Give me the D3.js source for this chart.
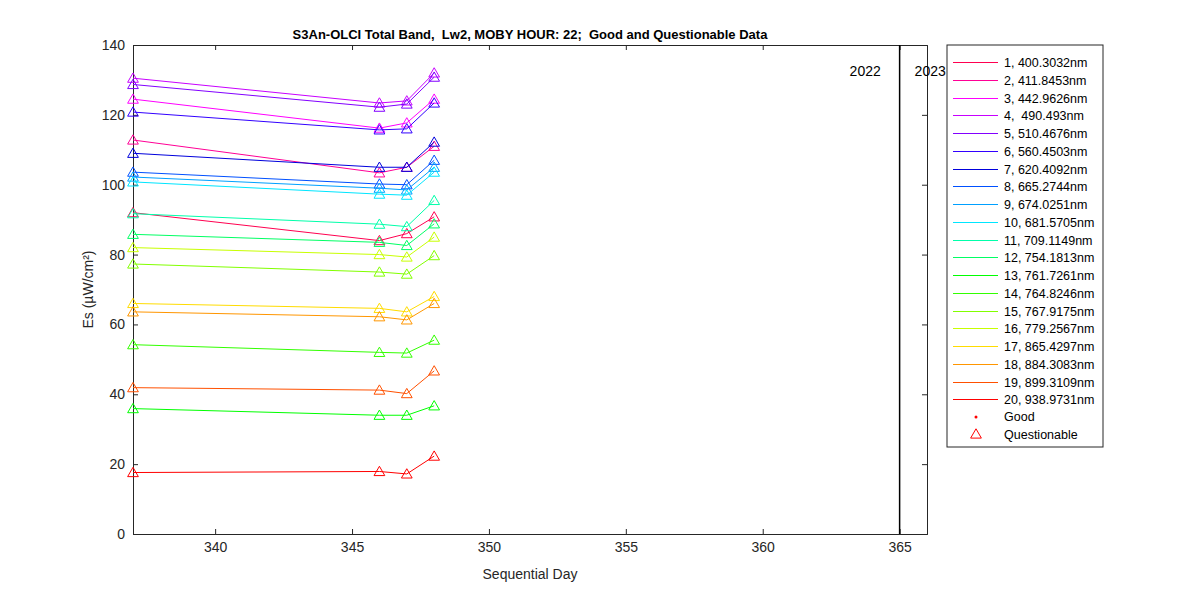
<!DOCTYPE html>
<html><head><meta charset="utf-8"><script src="https://cdn.jsdelivr.net/npm/d3@7"></script>
<style>body{margin:0;background:#fff}text{font-family:Arial,"Liberation Sans",sans-serif;white-space:pre}</style></head>
<body><svg id="c" width="1200" height="600"></svg>
<script>
const days=[337,346,347,348];
const bandNames=["1, 400.3032nm","2, 411.8453nm","3, 442.9626nm","4,  490.493nm","5, 510.4676nm","6, 560.4503nm","7, 620.4092nm","8, 665.2744nm","9, 674.0251nm","10, 681.5705nm","11, 709.1149nm","12, 754.1813nm","13, 761.7261nm","14, 764.8246nm","15, 767.9175nm","16, 779.2567nm","17, 865.4297nm","18, 884.3083nm","19, 899.3109nm","20, 938.9731nm"];
const bandColors=["#ff0050","#ff0096","#ff00ff","#c800ff","#8200ff","#3200ff","#0000dc","#0050ff","#00a0ff","#00e6ff","#00ffaa","#00ff64","#00ff00","#32ff00","#82ff00","#c8ff00","#ffdc00","#ff9600","#ff5000","#ff0000"];
const bandValues=[
[92.0,84.0,86.0,90.8],
[112.8,103.4,105.0,111.0],
[124.5,116.2,117.7,124.5],
[130.5,123.4,124.0,132.0],
[128.7,122.2,123.1,130.8],
[120.8,115.7,116.0,123.4],
[109.0,105.0,105.0,112.2],
[103.6,100.2,100.0,107.0],
[102.2,99.0,98.5,105.0],
[100.8,97.3,97.0,103.6],
[91.7,88.7,88.0,95.5],
[85.8,83.5,82.6,88.8],
[35.9,34.0,34.0,36.7],
[54.2,52.0,51.8,55.5],
[77.3,75.0,74.4,79.7],
[82.0,80.0,79.3,85.0],
[66.0,64.6,63.6,68.0],
[63.6,62.2,61.3,66.0],
[41.9,41.2,40.2,46.7],
[17.6,17.9,17.2,22.3]];
const xTicks=[340,345,350,355,360,365];
const yTicks=[0,20,40,60,80,100,120,140];
const yearLine=365;

const svg=d3.select("#c");
const L=133,R=927,T=45,B=534;
const x=d3.scaleLinear().domain([337,366]).range([L,R]);
const y=d3.scaleLinear().domain([0,140]).range([B,T]);
const g=svg.append("g");
g.append("rect").attr("x",L).attr("y",T).attr("width",R-L).attr("height",B-T).attr("fill","#fff");
const xa=g.append("g").attr("transform",`translate(0,${B})`).call(d3.axisBottom(x).tickValues(xTicks).tickSize(-5).tickPadding(8));
const xt=g.append("g").attr("transform",`translate(0,${T})`).call(d3.axisTop(x).tickValues(xTicks).tickSize(-5).tickFormat(""));
const ya=g.append("g").attr("transform",`translate(${L},0)`).call(d3.axisLeft(y).tickValues(yTicks).tickSize(-5).tickPadding(8));
const yr=g.append("g").attr("transform",`translate(${R},0)`).call(d3.axisRight(y).tickValues(yTicks).tickSize(-5).tickFormat(""));
[xa,xt,ya,yr].forEach(a=>{a.selectAll("path,line").attr("stroke","#262626");a.selectAll("text").attr("font-size",14).attr("fill","#262626");});
g.append("line").attr("x1",x(yearLine)).attr("x2",x(yearLine)).attr("y1",T).attr("y2",B).attr("stroke","#000").attr("stroke-width",1.5);
g.append("text").attr("x",x(yearLine)-50).attr("y",76).attr("font-size",14).text("2022");
g.append("text").attr("x",x(yearLine)+15).attr("y",76).attr("font-size",14).text("2023");
const line=d3.line().x((d,i)=>x(days[i])).y(d=>y(d));
const tri=d3.symbol().type(d3.symbolTriangle).size(50);
bandValues.forEach((vals,k)=>{
  g.append("path").attr("d",line(vals)).attr("fill","none").attr("stroke",bandColors[k]).attr("stroke-width",1);
  vals.forEach((v,i)=>g.append("path").attr("d",tri).attr("transform",`translate(${x(days[i])},${y(v)+1})`).attr("fill","none").attr("stroke",bandColors[k]));
});
svg.append("text").attr("x",530).attr("y",39).attr("text-anchor","middle").attr("font-size",13).attr("font-weight","bold").attr("fill","#000").text("S3An-OLCI Total Band,  Lw2, MOBY HOUR: 22;  Good and Questionable Data");
svg.append("text").attr("x",530).attr("y",579).attr("text-anchor","middle").attr("font-size",14).attr("fill","#262626").text("Sequential Day");
svg.append("text").attr("transform",`translate(93,${(T+B)/2}) rotate(-90)`).attr("text-anchor","middle").attr("font-size",14).attr("fill","#262626").text("Es (µW/cm²)");
// legend
const lg=svg.append("g");
lg.append("rect").attr("x",947).attr("y",45).attr("width",156).attr("height",402).attr("fill","#fff").attr("stroke","#262626");
bandNames.forEach((n,k)=>{
  const yy=Math.round(62+k*17.75)+0.5;
  lg.append("line").attr("x1",953).attr("x2",998).attr("y1",yy).attr("y2",yy).attr("stroke",bandColors[k]).attr("stroke-width",1).attr("shape-rendering","crispEdges");
  lg.append("text").attr("x",1004).attr("y",yy+4).attr("font-size",12.5).attr("fill","#000").text(n);
});
lg.append("circle").attr("cx",976).attr("cy",417).attr("r",1.5).attr("fill","#ff0000");
lg.append("text").attr("x",1004).attr("y",421).attr("font-size",12.5).text("Good");
lg.append("path").attr("d",tri).attr("transform","translate(976,435)").attr("fill","none").attr("stroke","#ff0000");
lg.append("text").attr("x",1004).attr("y",439).attr("font-size",12.5).text("Questionable");
</script></body></html>
